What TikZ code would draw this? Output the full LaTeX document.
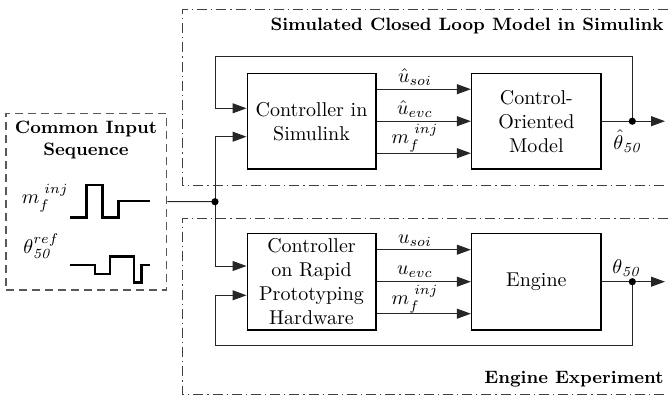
\documentclass[tikz,border=0pt]{standalone}
\usetikzlibrary{arrows.meta,calc}
\begin{document}
\begin{tikzpicture}[x=0.5pt,y=-0.5pt,
  blk/.style={draw, line width=0.8pt, minimum width=64.2pt, minimum height=47.9pt, align=center, inner sep=1pt},
  conn/.style={line width=0.5pt, draw=black!85},
  arr/.style={conn, -{Triangle[length=7pt,width=5pt]}},
  frm/.style={line width=0.5pt, draw=black!75, dash pattern=on 5pt off 2pt on 0.6pt off 2pt},
  dfrm/.style={line width=0.6pt, draw=black!65, dash pattern=on 4pt off 2.5pt},
  sig/.style={line width=1.3pt, line join=miter},
  ttl/.style={font=\fontsize{8.95}{11}\selectfont\bfseries, inner sep=0pt},
  jdot/.style={circle, fill=black, inner sep=0pt, minimum size=3.6pt},
  lbl/.style={inner sep=0pt, anchor=base}
]
\useasboundingbox (0,0) rectangle (668,396);

% frames
\draw[frm] (668,9.3) -- (182.7,9.3) -- (182.7,185.3) -- (668,185.3);
\draw[frm] (668,218) -- (182.7,218) -- (182.7,394) -- (668,394);
\node[ttl, anchor=base east] (t1) at (664,30) {Simulated Closed Loop Model in Simulink};
\node[ttl, anchor=base east] (t2) at (664,383) {Engine Experiment};

% input box
\node[dfrm, draw, minimum width=80.35pt, minimum height=88.35pt, inner sep=0pt] (inbox) at (86.3,201.65) {};
\node[ttl, align=center] (cis) at (86,140) {Common Input\\Sequence};
\node[inner sep=0pt, anchor=base west] (lm) at (21.5,203) {$m_f^{\kern2.5pt inj}$};
\node[inner sep=0pt, anchor=base west] (lt) at (23,253) {$\theta_{\mathit{50}}^{ref}$};
\draw[sig] (70,217.3) -- (86.7,217.3) -- (86.7,185) -- (102.3,185) -- (102.3,217.3) -- (118.3,217.3) -- (118.3,201) -- (150,201);
\draw[sig] (70,265) -- (95,265) -- (95,274) -- (110,274) -- (110,256.7) -- (134,256.7) -- (134,282.3) -- (141.7,282.3) -- (141.7,265) -- (150,265);

% blocks
\node[blk] (ctl) at (311.5,121.2) {Controller in\\Simulink};
\node[blk, minimum width=64.7pt] (mdl) at (536.35,121.2) {Control-\\Oriented\\Model};
\node[blk, minimum height=48.4pt] (rph) at (311.5,281.7) {Controller\\on Rapid\\Prototyping\\Hardware};
\node[blk, minimum width=64.7pt, minimum height=48.4pt] (eng) at (536.35,281.7) {Engine};

% signals between blocks (top)
\draw[arr] ([yshift=16pt]ctl.east) -- ([yshift=16pt]mdl.west);
\draw[arr] (ctl.east) -- (mdl.west);
\draw[arr] ([yshift=-16pt]ctl.east) -- ([yshift=-16pt]mdl.west);
\node[lbl] (a1) at (415,82) {$\hat{u}_{soi}$};
\node[lbl] (a2) at (415,114) {$\hat{u}_{evc}$};
\node[lbl] (a3) at (415,143) {$m_f^{\kern2.5pt inj}$};
% bottom
\draw[arr] ([yshift=16pt]rph.east) -- ([yshift=16pt]eng.west);
\draw[arr] (rph.east) -- (eng.west);
\draw[arr] ([yshift=-16pt]rph.east) -- ([yshift=-16pt]eng.west);
\node[lbl] (b1) at (415,243) {$u_{soi}$};
\node[lbl] (b2) at (415,274.7) {$u_{evc}$};
\node[lbl] (b3) at (415,304) {$m_f^{\kern2.5pt inj}$};

% input distribution
\coordinate (j) at (215,201.7);
\draw[conn] (inbox.east) -- (j);
\draw[arr] (j) |- ([yshift=-7.75pt]ctl.west);
\draw[arr] (j) |- ([yshift=7.85pt]rph.west);
\node[jdot] (jd) at (j) {};

% outputs and feedback
\coordinate (o1) at (632.3,121.2);
\coordinate (e1) at (665,121.2);
\coordinate (c1) at (215,56.7);
\draw[arr] (mdl.east) -- (e1);
\draw[arr] (o1) |- (c1) |- ([yshift=6.45pt]ctl.west);
\node[jdot] (od1) at (o1) {};
\node[inner sep=0pt] (th1) at (628,141) {$\hat\theta_{\mathit{50}}$};

\coordinate (o2) at (632.3,281.7);
\coordinate (e2) at (665,281.7);
\coordinate (c2) at (215,345.5);
\draw[arr] (eng.east) -- (e2);
\draw[arr] (o2) |- (c2) |- ([yshift=-6.8pt]rph.west);
\node[jdot] (od2) at (o2) {};
\node[inner sep=0pt] (th2) at (627,268) {$\theta_{\mathit{50}}$};
\end{tikzpicture}
\end{document}
